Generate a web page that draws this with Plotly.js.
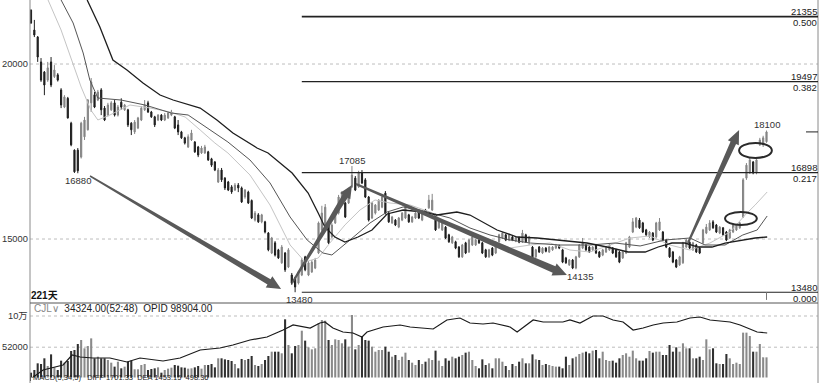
<!DOCTYPE html>
<html><head><meta charset="utf-8">
<script src="https://cdn.plot.ly/plotly-3.0.1.min.js"></script>
<style>html,body{margin:0;padding:0;background:#fff;}#chart{width:820px;height:383px;}</style>
</head><body><div id="chart"></div>
<script>
// ---- candle data (221 trading days) ----
const openP = [21540,20970,20770,20060,19770,19540,20060,19640,19690,19260,18770,19020,18310,17540,17540,17340,17920,18120,18890,19120,18970,19260,18740,18540,18690,18890,18540,18910,18690,18690,18310,18060,18170,18400,18690,18890,18630,18490,18400,18540,18400,18460,18540,18490,18260,18060,17890,17630,17830,17770,17630,17460,17460,17490,17290,17200,16630,16970,16740,16630,16490,16400,16540,16460,16200,16340,16100,15540,15690,15490,15490,15170,14600,14890,14690,14320,14600,14200,13970,13890,13740,13970,14490,13970,14060,14170,14600,15260,15340,15490,15060,15460,15740,16030,16030,16030,16490,16740,16490,16890,16690,16200,15600,15740,15830,15910,16310,15740,15460,15540,15340,15540,15600,15690,15490,15600,15770,15540,15830,15890,15830,15690,15320,15260,15340,15120,14890,14920,14770,14490,14890,14630,14830,14830,14970,14890,14690,14490,14740,14600,14920,15030,15120,14970,15060,14940,15040,14920,15120,14920,14770,14490,14770,14600,14740,14630,14690,14740,14810,14690,14460,14260,14400,14170,14490,14740,14830,14770,14690,14830,14630,14540,14630,14690,14740,14690,14630,14460,14600,14770,15200,15340,15540,15460,15260,15060,15170,15060,15260,15200,14970,14740,14630,14400,14260,14320,14770,14910,14690,14830,14740,14890,15170,15260,15490,15400,15170,15320,15200,15030,15200,15260,15320,15630,16740,16890,17200,16890,17690,17690,17780];
const highP = [21560,21260,20800,20170,19800,20060,20200,19970,19740,19310,19110,19060,18350,17560,17600,18350,18490,19000,19600,19200,19260,19310,18800,18890,18940,18970,18830,19020,18860,18720,18340,18400,18490,18800,18970,18950,18660,18520,18570,18570,18600,18630,18690,18520,18400,18090,17920,17990,18120,17800,17660,17660,17690,17520,17320,17230,17030,17030,16770,16660,16540,16600,16600,16500,16430,16380,16130,15800,15740,15720,15520,15200,15060,14940,14720,14830,14630,14740,14030,13920,14090,14460,14520,14370,14400,14460,15500,15950,16000,15530,15450,15880,16260,16370,16060,16460,17085,16800,16950,16970,16740,16230,16060,16000,16140,16260,16370,15770,15660,15570,15630,15770,16000,15720,15660,15770,15800,15800,15860,16260,16290,15720,15520,15490,15370,15150,15090,14950,14800,14860,14920,15000,15090,15000,15030,14920,14720,14720,14770,14940,15150,15200,15150,15150,15090,15070,15070,15260,15150,15090,14800,14720,14800,14770,14770,14800,14800,14860,14840,14720,14490,14430,14430,14520,14860,15030,14860,14800,14800,14860,14660,14720,14800,14860,14770,14720,14660,14660,14920,15090,15600,15630,15600,15490,15290,15230,15200,15490,15600,15230,15000,14770,14660,14430,14520,14920,15000,14940,14920,14860,14770,15290,15430,15540,15540,15430,15370,15340,15230,15290,15430,15430,15490,16740,17170,17320,17230,17320,17890,17950,18100];
const lowP = [21150,20770,20060,19490,19110,19490,19340,19600,19500,18740,18740,18440,17650,16890,16880,17300,17830,18100,18630,18740,18940,18540,18370,18500,18660,18500,18500,18690,18660,18200,17970,18000,18140,18370,18660,18600,18460,18200,18370,18370,18370,18430,18510,18140,17970,17860,17700,17600,17800,17460,17340,17430,17430,17230,17060,16940,16600,16630,16400,16370,16290,16370,16340,16030,16150,16000,15570,15500,15460,15450,15160,14650,14570,14500,14430,14290,14060,14170,13690,13480,13700,13940,14080,13940,14030,14140,14570,15230,15300,14860,15020,15430,15700,16000,15600,16000,16460,16370,16460,16570,16170,15500,15570,15700,15800,15880,15700,15460,15430,15370,15310,15510,15570,15460,15460,15570,15570,15510,15660,15860,15800,15230,15290,15230,15000,14890,14860,14710,14460,14460,14570,14600,14800,14800,14860,14570,14460,14460,14510,14570,14890,15000,14940,14940,14940,14910,14880,14890,14890,14830,14460,14460,14600,14570,14620,14600,14660,14710,14710,14310,14290,14230,14140,14135,14460,14710,14660,14600,14660,14570,14460,14510,14600,14660,14570,14460,14310,14430,14570,14740,15170,15310,15290,15170,15090,15030,14940,15030,15230,14940,14740,14460,14310,14170,14230,14290,14740,14710,14660,14600,14570,14860,15140,15230,15290,15170,15140,15090,14940,15000,15170,15230,15290,15600,16690,16860,16850,16850,17660,17630,17750];
const closeP = [21170,20830,20200,19540,19400,19890,19400,19830,19540,18830,19060,18460,17690,16920,16950,18310,18400,18970,19490,18770,19200,18690,18400,18830,18890,18540,18770,18770,18830,18260,18120,18340,18460,18740,18830,18630,18490,18260,18540,18400,18540,18600,18630,18170,18060,17890,17740,17920,18030,17490,17400,17600,17630,17260,17110,16970,16970,16690,16460,16400,16345,16540,16460,16060,16400,16030,15600,15740,15490,15690,15200,14690,15030,14540,14460,14770,14120,14690,13740,13630,14060,14400,14120,14320,14340,14400,15460,15740,15910,14890,15400,15830,16200,16310,15630,16400,16830,16400,16890,16600,16200,15540,16030,15970,16110,16200,15740,15490,15630,15400,15600,15740,15970,15490,15630,15740,15600,15770,15690,16110,16110,15260,15490,15460,15030,14920,15060,14740,14490,14830,14600,14970,15060,14970,14890,14600,14490,14690,14540,14910,15120,15170,14970,15120,14970,15040,14910,15170,14920,15060,14490,14690,14630,14740,14650,14770,14770,14830,14740,14340,14320,14400,14170,14490,14830,14890,14690,14630,14770,14600,14490,14690,14770,14830,14600,14490,14340,14630,14890,15060,15490,15600,15320,15200,15120,15200,14970,15460,15490,14970,14770,14490,14340,14200,14490,14890,14970,14740,14890,14630,14600,15260,15340,15460,15320,15200,15340,15120,14970,15260,15400,15400,15460,16690,17110,17260,16890,17260,17830,17890,18060];
// ---- volume (CJL) ----
const volume = [12800,16900,27200,26200,34900,23100,41000,21000,16900,31300,28200,30800,46200,47700,56900,63100,50300,53800,65600,34900,37400,34900,34900,32300,28200,22100,29700,19500,22100,29700,31300,18000,18000,24600,26200,16900,18500,19500,21000,12800,16900,19000,20500,24600,23600,21000,20500,19000,19500,21000,23100,19000,24600,24600,26200,21000,34900,34900,33300,32300,30800,26200,19500,33900,32300,33900,38500,24600,23100,26200,32300,38500,45100,45100,45100,42600,94900,55400,42600,53800,55400,77400,62100,51800,48700,50300,88700,93800,92800,63100,55400,64100,63100,58000,64100,52800,101500,48700,55400,68200,63100,62100,52800,45100,47700,47700,52800,45100,37400,40000,32300,37400,43600,32300,28200,24600,32300,26200,29700,34900,32300,46700,31300,23100,34900,31300,37400,34900,37400,40000,43600,45100,32300,23100,19500,33300,24600,27200,19500,34900,34900,29700,23100,16900,26200,23100,29700,34900,27200,27200,41000,33300,32300,24600,26200,24600,23100,22100,22100,19500,37400,24600,34900,37400,41500,43600,45100,42600,46700,47700,34900,45100,32300,30800,31300,28200,34900,40000,42600,37400,46700,34900,31300,31300,34900,46200,43600,45100,45100,40000,40000,55400,45100,51800,45100,58000,50300,50300,34900,34900,37400,32300,64100,48700,50300,27200,26200,26200,41500,34900,26200,28200,26200,74400,74400,69200,45100,45100,56900,36400,36400];
// ---- open interest line (OPID) ----
const oiX = [0.3,3.6,9.6,12.3,14.7,18.5,23.6,28.7,32.6,39.5,44.6,50.6,56.5,60.4,65.5,70.6,75.4,78.4,83.5,86.4,87.9,90.3,93.3,96.3,99.0,100.5,105.3,110.4,113.4,117.3,120.3,124.4,128.3,131.3,135.2,138.2,143.3,145.4,150.2,153.2,159.1,161.2,164.2,168.1,171.1,174.1,177.1,180.1,183.1,186.1,189.1,193.2,197.1,200.1,203.1,206.1,209.1,212.1,215.1,217.2,220.2];
const oiY = [42519,52543,58808,71338,68832,67579,67579,62567,67579,63820,67579,77603,80109,83868,90133,93892,102663,108928,105169,111434,112687,105169,100157,98904,93892,100157,106422,108928,106422,105169,103916,115193,117699,111434,110181,111434,106422,100157,115193,112687,112687,115193,111434,120205,120205,115193,112687,102663,105169,108928,111434,112687,117699,118952,115193,113940,112687,108928,103916,100157,98904];
// ---- moving averages ----
const maSlowX = [16.8,20.6,24.5,28.7,33.5,38.6,42.5,50.6,55.6,60.4,67.6,70.9,78.1,82.9,85.9,87.9,90.9,93.9,97.8,102.0,106.5,111.3,117.3,121.4,127.4,131.3,139.4,145.4,151.4,158.2,166.3,172.3,178.6,183.7,187.6,191.7,195.6,199.5,203.7,207.6,212.7,216.6,220.2];
const maSlowY = [21829,21058,20115,19829,19458,19115,18972,18743,18401,18029,17601,17458,16886,16315,15744,15344,15058,14915,15058,15258,15715,15829,15772,15686,15772,15686,15258,15058,15029,14972,14886,14772,14629,14629,14772,14886,14886,14772,14772,14886,14972,15029,15058];
const maMidX = [9.0,12.6,15.6,17.6,20.0,26.9,34.1,41.9,47.0,55.0,58.9,65.5,71.5,77.5,82.6,87.3,90.0,95.4,101.4,106.5,111.3,116.4,125.3,131.3,137.3,143.3,149.3,158.2,167.2,174.7,182.2,189.6,197.1,201.6,207.6,212.9,217.2,220.2];
const maMidY = [21829,21172,20315,19543,19029,18972,18829,18601,18543,18029,17772,17258,16601,15629,14972,14601,14544,14972,15458,15772,15915,15829,15601,15315,15115,14972,14886,14829,14829,14886,14801,14972,15029,14829,14829,15115,15258,15658];
const maFastX = [5.1,9.0,15.0,17.9,20.0,23.6,29.6,35.6,41.6,46.1,50.6,55.0,58.9,65.5,71.5,77.5,82.0,85.9,89.4,93.9,98.4,102.9,107.4,113.4,119.4,125.3,131.3,137.3,143.3,149.3,155.3,161.2,167.2,173.2,179.2,185.2,191.1,197.1,203.1,209.1,213.6,216.6,220.2];
const maFastY = [21829,20972,19343,18686,18401,18543,18829,18743,18629,18486,18115,17743,17458,16829,15972,14829,14344,14458,14886,15401,15829,16115,16029,15972,15772,15401,15115,14972,14744,14829,14886,14686,14629,14829,15029,15087,14829,14686,14886,15201,15686,15972,16344];
// ---- fibonacci levels & labels ----
const fibLevels = [21355, 19497, 16898, 13480];
const fibRatios = ['0.500', '0.382', '0.217', '0.000'];
const priceTicks = [15000, 20000];
const volTicks = [52000, 100000];
const volTickText = ['52000', '10万'];
const lowMarks = [14, 79, 163];   // candles labelled with their low
const highMarks = [96, 220];      // candles labelled with their high
const headerName = 'CJL∨';
const headerText = '34324.00(52:48)\u00a0\u00a0OPID 98904.00';
const daysText = '221天';
const macdText = 'MACD(5,34,5)\u00a0\u00a0\u00a0DIFF 1701.33\u00a0\u00a0DEA 1453.15\u00a0\u00a0498.36';

// ---- decorations (arrows / ellipses) in data coords ----
const arrowSegs = [
  [17.65,16801, 74.8,13572, 1.5,6,14,13],
  [78.1,13744, 96.0,16544, 2,6,13,12],
  [97.2,16572, 160.3,13972, 2,7,14,13],
  [196.5,14886, 211.8,18115, 2,6,14,12]
];
const ellipses = [[207.6,217.1,15401,15772],[211.8,221.6,17315,17743]];

const W = 820, H = 383;
const xr = [-0.3, 235.4];
const yr = [13172, 21829];
const vr = [-3077, 120000];
const oir = [36254, 136494];
const mainBottomPx = 303;
const idx = openP.map((_, i) => i);
const F = 'Liberation Sans, Arial, sans-serif';
const px = x => x / W;
const py = y => 1 - y / H;

const pxI = 788 / (xr[1] - xr[0]);
const pxP = mainBottomPx / (yr[1] - yr[0]);
function arrowPath(a) {
  const [i0,p0,i1,p1,w0,w1,hl,hw] = a;
  const X0=i0*pxI, Y0=-p0*pxP, X1=i1*pxI, Y1=-p1*pxP;
  const dx=X1-X0, dy=Y1-Y0, L=Math.hypot(dx,dy);
  const ux=dx/L, uy=dy/L, nx=-uy, ny=ux;
  const Bx=X1-ux*hl, By=Y1-uy*hl;
  const pts=[[X0+nx*w0/2,Y0+ny*w0/2],[Bx+nx*w1/2,By+ny*w1/2],[Bx+nx*hw/2,By+ny*hw/2],[X1,Y1],
             [Bx-nx*hw/2,By-ny*hw/2],[Bx-nx*w1/2,By-ny*w1/2],[X0-nx*w0/2,Y0-ny*w0/2]];
  return 'M' + pts.map(p => (p[0]/pxI).toFixed(3) + ',' + (-p[1]/pxP).toFixed(1)).join('L') + 'Z';
}

const volColors = idx.map(i => closeP[i] >= openP[i] ? '#8a8a8a' : '#303030');

const traces = [
  {type:'scatter', mode:'lines', x:maFastX, y:maFastY, line:{color:'#c4c4c4', width:1}, hoverinfo:'skip'},
  {type:'scatter', mode:'lines', x:maMidX, y:maMidY, line:{color:'#555', width:1}, hoverinfo:'skip'},
  {type:'scatter', mode:'lines', x:maSlowX, y:maSlowY, line:{color:'#1e1e1e', width:1.3}, hoverinfo:'skip'},
  {type:'candlestick', x:idx, open:openP, high:highP, low:lowP, close:closeP,
   increasing:{line:{color:'#858585', width:1}, fillcolor:'#858585'},
   decreasing:{line:{color:'#1e1e1e', width:1}, fillcolor:'#1e1e1e'},
   whiskerwidth:0, hoverinfo:'skip'},
  {type:'bar', x:idx, y:volume, yaxis:'y2', width:0.62, marker:{color:volColors, line:{width:0}}, hoverinfo:'skip'},
  {type:'scatter', mode:'lines', x:oiX, y:oiY, yaxis:'y3', line:{color:'#1a1a1a', width:1.2}, hoverinfo:'skip'}
];

const shapes = [];
priceTicks.forEach(v => shapes.push({type:'line', xref:'paper', yref:'y', x0:px(30), x1:px(818), y0:v, y1:v, line:{color:'#bdbdbd', width:1, dash:'dot'}, layer:'below'}));
volTicks.forEach(v => shapes.push({type:'line', xref:'paper', yref:'y2', x0:px(30), x1:px(818), y0:v, y1:v, line:{color:'#bdbdbd', width:1, dash:'dot'}, layer:'below'}));
// strip at the very bottom for the MACD header
shapes.push({type:'rect', xref:'paper', yref:'paper', x0:px(31), x1:px(817.5), y0:0, y1:py(377.5), fillcolor:'#fff', line:{width:0}, layer:'above'});
shapes.push({type:'line', xref:'paper', yref:'paper', x0:px(30), x1:px(30), y0:0, y1:1, line:{color:'#8a8a8a', width:1}});
shapes.push({type:'line', xref:'paper', yref:'paper', x0:px(818), x1:px(818), y0:0, y1:1, line:{color:'#8a8a8a', width:1}});
shapes.push({type:'line', xref:'paper', yref:'paper', x0:px(30), x1:px(818), y0:py(mainBottomPx), y1:py(mainBottomPx), line:{color:'#555', width:1}});
fibLevels.forEach((v, k) => shapes.push({type:'line', xref:'x', yref:'y', x0:81, x1:xr[1], y0:v, y1:v, line:{color:'#222', width:k === 0 ? 1.6 : 1.1}}));
const last = idx.length - 1;
shapes.push({type:'line', xref:'paper', yref:'y', x0:px(806), x1:px(818), y0:closeP[last], y1:closeP[last], line:{color:'#222', width:1}});
shapes.push({type:'line', xref:'x', yref:'y', x0:last, x1:last, y0:fibLevels[3], y1:13260, line:{color:'#777', width:1}});
arrowSegs.forEach(a => shapes.push({type:'path', xref:'x', yref:'y', path:arrowPath(a), fillcolor:'#595959', line:{width:0}, layer:'above'}));
ellipses.forEach(e => shapes.push({type:'circle', xref:'x', yref:'y', x0:e[0], x1:e[1], y0:e[2], y1:e[3], line:{color:'#2a2a2a', width:2}, layer:'above'}));

const annotations = [];
const tf = (size, color) => ({family:F, size:size, color:color || '#222'});
priceTicks.forEach(v => annotations.push({xref:'paper', yref:'y', x:px(29.5), y:v, xanchor:'right', yanchor:'middle', borderpad:0, text:String(v), showarrow:false, font:tf(9.3,'#333')}));
volTicks.forEach((v, k) => annotations.push({xref:'paper', yref:'y2', x:px(29.5), y:v, xanchor:'right', yanchor:'middle', borderpad:0, text:volTickText[k], showarrow:false, font:{family:F + ', Noto Sans CJK SC', size:9.3, color:'#333'}}));
fibLevels.forEach((v, k) => {
  annotations.push({xref:'paper', yref:'y', x:px(818), y:v, xanchor:'right', yanchor:'middle', yshift:5, borderpad:0, text:String(v), showarrow:false, font:tf(9.5,'#222')});
  annotations.push({xref:'paper', yref:'y', x:px(818), y:v, xanchor:'right', yanchor:'middle', yshift:-6, borderpad:0, text:fibRatios[k], showarrow:false, font:tf(9.5,'#222')});
});
lowMarks.forEach(i => annotations.push({xref:'x', yref:'y', x:i, y:lowP[i], xanchor:'center', yanchor:'middle', xshift:(i === 14 ? 0 : 4), yshift:-7, text:String(lowP[i]), showarrow:false, font:tf(9.5,'#333')}));
highMarks.forEach(i => annotations.push({xref:'x', yref:'y', x:i, y:highP[i], xanchor:'center', yanchor:'middle', yshift:6, text:String(highP[i]), showarrow:false, font:tf(9.5,'#333')}));
annotations.push({xref:'paper', yref:'paper', x:px(29), y:py(295.5), xanchor:'left', yanchor:'middle', text:daysText, showarrow:false, font:{family:F + ', Noto Sans CJK SC', size:10, color:'#111', weight:'bold'}});
annotations.push({xref:'paper', yref:'paper', x:px(32), y:py(308), xanchor:'left', yanchor:'middle',
  text:'<span style="color:#888">' + headerName + '</span>\u00a0\u00a0' + headerText, showarrow:false, font:{family:F, size:10, color:'#222'}});
annotations.push({xref:'paper', yref:'paper', x:px(32), y:0, xanchor:'left', yanchor:'bottom', borderpad:0, text:macdText, showarrow:false, font:{family:F, size:7.5, color:'#222'}});

const layout = {
  width:W, height:H, margin:{l:0, r:0, t:0, b:0}, paper_bgcolor:'#fff', plot_bgcolor:'#fff',
  showlegend:false, hovermode:false, dragmode:false, boxgap:0.5, font:{family:F},
  xaxis:{domain:[px(30), px(818)], range:xr, showgrid:false, zeroline:false, showticklabels:false, ticks:'', rangeslider:{visible:false}, fixedrange:true},
  yaxis:{domain:[py(mainBottomPx), 1], range:yr, showgrid:false, zeroline:false, showticklabels:false, ticks:'', fixedrange:true},
  yaxis2:{domain:[0, py(mainBottomPx)], range:vr, showgrid:false, zeroline:false, showticklabels:false, ticks:'', anchor:'x', fixedrange:true},
  yaxis3:{overlaying:'y2', range:oir, showgrid:false, zeroline:false, showticklabels:false, ticks:'', anchor:'x', fixedrange:true},
  shapes:shapes, annotations:annotations
};
Plotly.newPlot('chart', traces, layout, {staticPlot:true, displayModeBar:false});
</script></body></html>
